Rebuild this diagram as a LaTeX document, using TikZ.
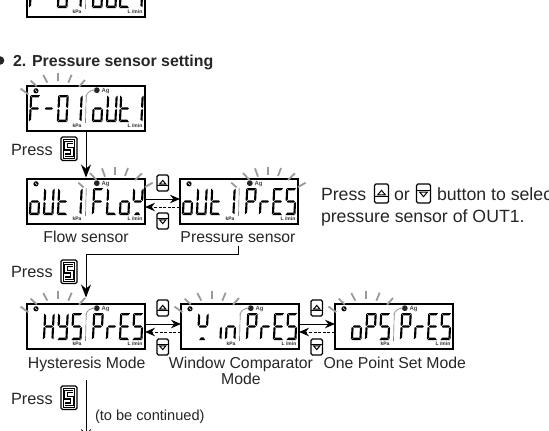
\documentclass[tikz,border=0pt]{standalone}
\usepackage{fontspec}
\setmainfont{Liberation Sans}
\usetikzlibrary{arrows.meta}
\definecolor{ink}{HTML}{262626}
\definecolor{ray}{HTML}{9A9A9A}
\tikzset{
  lcdbox/.style={draw=black,line width=1.3pt,minimum width=118pt,minimum height=45pt,inner sep=0pt,outer sep=0pt,anchor=north west},
  flowarrow/.style={line width=1pt,draw=black,-{Stealth[length=10pt,width=8.5pt]}},
  downarrow/.style={line width=1pt,draw=black,-{Stealth[length=13pt,width=10pt]}},
  retarrow/.style={line width=1pt,draw=black,dash pattern=on 3pt off 1.6pt,-{Stealth[length=10pt,width=8.5pt]}},
  lab/.style={inner sep=0pt,outer sep=0pt,anchor=base,text=ink,font=\fontsize{15.8}{17}\selectfont},
  labl/.style={lab,anchor=base west},
  presslab/.style={labl,font=\fontsize{16.3}{17}\selectfont},
  big/.style={labl,font=\fontsize{17.7}{19}\selectfont},
  tiny/.style={inner sep=0pt,anchor=base,text=ink,font=\fontsize{5}{5.5}\selectfont\bfseries},
  raystroke/.style={draw=ray,line width=1.8pt},
  btn/.style={draw=black,line width=1.2pt,rounded corners=1.5pt,minimum width=#1,inner sep=0pt,outer sep=0pt,anchor=north west},
}
% seven-segment pieces, local box 11.5 x 27
\newcommand\dsega{\fill (.6,0)--(10.9,0)--(9,2.3)--(2.5,2.3)--cycle;}
\newcommand\dsegd{\fill (.6,27)--(10.9,27)--(9,24.7)--(2.5,24.7)--cycle;}
\newcommand\dsegg{\fill (1.4,13.5)--(2.6,12.3)--(8.9,12.3)--(10.1,13.5)--(8.9,14.7)--(2.6,14.7)--cycle;}
\newcommand\dsegf{\fill (0,.6)--(2.3,2.5)--(2.3,11.6)--(1.1,12.9)--(0,12.3)--cycle;}
\newcommand\dsege{\fill (0,26.4)--(2.3,24.5)--(2.3,15.4)--(1.1,14.1)--(0,14.7)--cycle;}
\newcommand\dsegb{\fill (11.5,.6)--(9.2,2.5)--(9.2,11.6)--(10.4,12.9)--(11.5,12.3)--cycle;}
\newcommand\dsegc{\fill (11.5,26.4)--(9.2,24.5)--(9.2,15.4)--(10.4,14.1)--(11.5,14.7)--cycle;}
\newcommand\dsegx{\fill (2.6,27)--(8.9,27)--(7.2,24.3)--(4.3,24.3)--cycle;}
% characters
\newcommand\cdefF{a,e,f,g}
\newcommand\cdefm{g}
\newcommand\cdefO{a,b,c,d,e,f}
\newcommand\cdefI{b,c}
\newcommand\cdefo{c,d,e,g}
\newcommand\cdefU{b,c,d,e,f}
\newcommand\cdeft{d,e,f,g}
\newcommand\cdefL{d,e,f}
\newcommand\cdefw{b,f,g,x}
\newcommand\cdefP{a,b,e,f,g}
\newcommand\cdefr{e,g}
\newcommand\cdefE{a,d,e,f,g}
\newcommand\cdefS{a,c,d,f,g}
\newcommand\cdefH{b,c,e,f,g}
\newcommand\cdefY{b,c,d,f,g}
\newcommand\cdefi{c}
\newcommand\cdefn{c,e,g}
% display: name, x, y, list slot/char
\newcommand\lcd[4]{%
  \node[lcdbox] (#1) at (#2,#3) {};
  \begin{scope}[shift={(#2,#3)}]
    \foreach \sx/\cc in {#4}{%
      \edef\seglist{\csname cdef\cc\endcsname}%
      \begin{scope}[shift={(\sx+1.2,9)},xslant=.05,xscale=.92,fill=black]
        \foreach \q in \seglist {\csname dseg\q\endcsname}
      \end{scope}
    }
    \draw[line width=.4pt,black!75] (58.6,37) -- (59.2,9);
    \fill[black] (9,4.8) circle (2.6pt);
    \draw[white,line width=.5pt] (7.8,3.6) -- (10.2,6);
    \fill[black!85] (69.8,4.2) circle (2.9pt);
    \node[inner sep=0pt,anchor=base,text=black!70,font=\fontsize{6}{6.5}\selectfont\bfseries] at (78.5,6.2) {Ag};
    \node[tiny] at (50,41.6) {kPa};
    \node[tiny] at (108,41.6) {L /min};
  \end{scope}
}
\newcommand\arcgray[2]{\draw[ray,line width=.9pt,shift={(#1,#2)}] (59.2,11) .. controls (59.4,7) and (62,5) .. (68,3.6);}
\newcommand\fanL[2]{\begin{scope}[shift={(#1,#2)}]
  \draw[raystroke] (-6.5,2.6)--(1.3,8.2);
  \draw[raystroke] (3.7,-5.3)--(9.7,.3);
  \draw[raystroke] (16.3,-11)--(20.3,-3.3);
  \draw[raystroke] (30.7,-13.3)--(30.7,-5);
  \draw[raystroke] (44.7,-11.3)--(41.3,-3.3);
  \draw[raystroke] (58,-6)--(52,.7);
\end{scope}}
\newcommand\fanR[2]{\begin{scope}[shift={(#1,#2)}]
  \draw[raystroke] (51.3,3.7)--(56.6,8.3);
  \draw[raystroke] (63,-6)--(69.5,1);
  \draw[raystroke] (75,-10.7)--(78,-2.3);
  \draw[raystroke] (88,-12.3)--(88,-4);
  \draw[raystroke] (101,-11)--(98,-3);
  \draw[raystroke] (115,-5.7)--(108,1);
  \draw[raystroke] (125.7,3.7)--(118,8);
\end{scope}}
% buttons: name x y w h
\newcommand\upbtn[5]{%
  \node[btn=#4 pt,minimum height=#5 pt] (#1) at (#2,#3) {};
  \begin{scope}[shift={(#1.center)},scale=#4/11.5]
    \draw[black,line width=1pt,line join=miter] (-3.2,1.2)--(0,-2.6)--(3.2,1.2)--cycle;
    \draw[black,line width=1pt] (-5.7,2.6)--(5.7,2.6);
  \end{scope}}
\newcommand\dnbtn[5]{%
  \node[btn=#4 pt,minimum height=#5 pt] (#1) at (#2,#3) {};
  \begin{scope}[shift={(#1.center)},scale=#4/11.5]
    \draw[black,line width=1pt,line join=miter] (-3.2,-1.2)--(0,2.6)--(3.2,-1.2)--cycle;
    \draw[black,line width=1pt] (-5.7,-2.6)--(5.7,-2.6);
  \end{scope}}
\newcommand\sbtn[3]{%
  \node[btn=16pt,minimum height=23.5pt,line width=1.2pt] (#1) at (#2,#3) {};
  \begin{scope}[shift={(#2,#3)}]
    \draw[line width=.5pt,black] (2.4,2.4) rectangle (13.6,21.1);
    \draw[line width=3.6pt,black,line join=miter] (12,5.4)--(5,5.4)--(5,11.7)--(11,11.7)--(11,18.2)--(4,18.2);
    \draw[line width=1.2pt,white,line join=miter] (12,5.4)--(5,5.4)--(5,11.7)--(11,11.7)--(11,18.2)--(4,18.2);
  \end{scope}}
\begin{document}
\begin{tikzpicture}[x=1pt,y=-1pt]
\useasboundingbox (0,0) rectangle (549,431);
\clip (0,0) rectangle (549,431);
% partial display at the top
\lcd{d0}{27}{-28}{2/F,16/m,30/O,44/I,65/o,79/U,92/t,105/I}
% title
\fill[ink] (0,60.5) circle (4.3pt);
\node[labl,font=\fontsize{15.9}{17}\selectfont\bfseries] (title) at (13,66) {2. Pressure sensor setting};
% row 1
\lcd{d1}{27}{86}{2/F,16/m,30/O,44/I,65/o,79/U,92/t,105/I}
\arcgray{27}{86}
\fanL{27}{86}
\node[presslab] (pr1) at (11,155) {Press};
\sbtn{s1}{61}{137}
% row 2
\lcd{d2}{27}{179}{2/o,16/U,30/t,44/I,65/F,79/L,92/o,105/w}
\fanR{27}{179}
\lcd{d3}{180}{179}{2/o,16/U,30/t,44/I,65/P,79/r,92/E,105/S}
\fanR{180}{179}
\node[lab] (fs) at (86,242.7) {Flow sensor};
\node[lab] (ps) at (238,242.7) {Pressure sensor};
\upbtn{u1}{157}{175}{11.5}{16}
\dnbtn{b1}{157}{213}{11.5}{16}
% side text
\node[big] (t1) at (321,200) {Press};
\upbtn{u9}{374.5}{184}{14}{19}
\node[big] (t2) at (394,200) {or};
\dnbtn{b9}{416.5}{184}{14}{19}
\node[big] (t3) at (437,200) {button to select};
\node[big] (t4) at (321,222) {pressure sensor of OUT1.};
% row 3
\node[presslab] (pr2) at (11,277.7) {Press};
\sbtn{s2}{61}{260}
\lcd{d4}{27}{304}{16/H,30/Y,44/S,65/P,79/r,92/E,105/S}
\arcgray{27}{304}
\fanL{27}{304}
\lcd{d5}{181}{304}{16/w,30/i,44/n,65/P,79/r,92/E,105/S}
\arcgray{181}{304}
\fanL{181}{304}
\lcd{d6}{335}{304}{16/o,30/P,44/S,65/P,79/r,92/E,105/S}
\arcgray{335}{304}
\fanL{335}{304}
\upbtn{u2}{157}{300}{11.5}{16}
\dnbtn{b2}{157}{339}{11.5}{16}
\upbtn{u3}{311}{300}{11.5}{16}
\dnbtn{b3}{311}{339}{11.5}{16}
\node[lab] (hm) at (86.7,368) {Hysteresis Mode};
\node[lab] (wm) at (241,368) {Window Comparator};
\node[lab] (wm2) at (241,384) {Mode};
\node[lab] (om) at (394.8,368) {One Point Set Mode};
\node[presslab] (pr3) at (11,404) {Press};
\sbtn{s3}{61}{386}
\node[labl,font=\fontsize{14.6}{16}\selectfont] (cont) at (95,420) {(to be continued)};
\coordinate (endc) at (86,442);
% connectors
\draw[downarrow,shorten >=1.5pt] (d1.south) -- (d2.north);
\draw[flowarrow] ([yshift=2.5pt]d2.east) -- ([yshift=2.5pt]d3.west);
\draw[retarrow] ([yshift=-5.5pt]d3.west) -- ([yshift=-5.5pt]d2.east);
\draw[downarrow,shorten >=6.5pt] ([yshift=-3pt]ps.south) -- ++(0,9) -| (d4.north);
\draw[flowarrow] ([yshift=2.5pt]d4.east) -- ([yshift=2.5pt]d5.west);
\draw[retarrow] ([yshift=-5.5pt]d5.west) -- ([yshift=-5.5pt]d4.east);
\draw[flowarrow] ([yshift=2.5pt]d5.east) -- ([yshift=2.5pt]d6.west);
\draw[retarrow] ([yshift=-5.5pt]d6.west) -- ([yshift=-5.5pt]d5.east);
\draw[downarrow] ([yshift=-31pt]d4.south) -- (endc);
\end{tikzpicture}
\end{document}
